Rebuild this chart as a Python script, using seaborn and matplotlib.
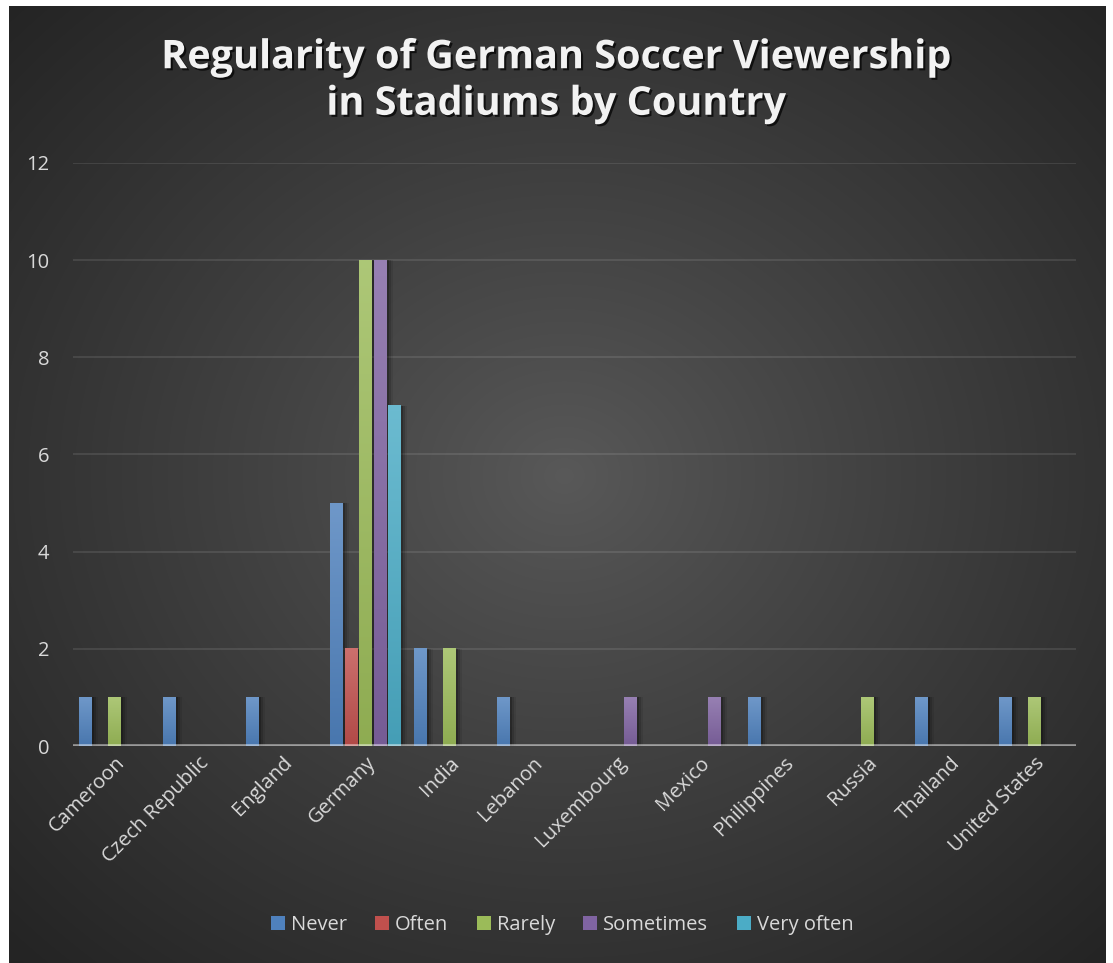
import numpy as np
import pandas as pd
import matplotlib
matplotlib.use("Agg")
import matplotlib.pyplot as plt
import matplotlib.patheffects as pe
import matplotlib.transforms as mtransforms
from matplotlib.patches import Patch, Rectangle
from matplotlib.colors import to_rgb
import seaborn as sns

# ---- data -------------------------------------------------------------
countries = ["Cameroon", "Czech Republic", "England", "Germany", "India", "Lebanon",
             "Luxembourg", "Mexico", "Philippines", "Russia", "Thailand", "United States"]
levels = ["Never", "Often", "Rarely", "Sometimes", "Very often"]
never      = [1, 1, 1, 5, 2, 1, 0, 0, 1, 0, 1, 1]
often      = [0, 0, 0, 2, 0, 0, 0, 0, 0, 0, 0, 0]
rarely     = [1, 0, 0, 10, 2, 0, 0, 0, 0, 1, 0, 1]
sometimes  = [0, 0, 0, 10, 0, 0, 1, 1, 0, 0, 0, 0]
very_often = [0, 0, 0, 7, 0, 0, 0, 0, 0, 0, 0, 0]
y_ticks = [0, 2, 4, 6, 8, 10, 12]
title = "Regularity of German Soccer Viewership\nin Stadiums by Country"

series = dict(zip(levels, [never, often, rarely, sometimes, very_often]))
df = pd.DataFrame([
    {"Country": c, "Regularity": lvl, "Count": vals[i]}
    for lvl, vals in series.items() for i, c in enumerate(countries)
])

palette = {"Never": "#4f81bd", "Often": "#c0504d", "Rarely": "#9bbb59",
           "Sometimes": "#8064a2", "Very often": "#4bacc6"}

# ---- figure -----------------------------------------------------------
W, H = 1113, 963
fig = plt.figure(figsize=(W / 100, H / 100), dpi=100)
fig.patch.set_facecolor("white")

# radial dark backdrop
bx0, by0, bw, bh = 9, 0, 1097, 957
bg = fig.add_axes([bx0 / W, by0 / H, bw / W, bh / H], zorder=-5)
bg.set_axis_off()
yy, xx = np.mgrid[0:bh, 0:bw]
cx, cy = 555, 470
r = np.sqrt(((xx - cx) / (bw / 2)) ** 2 + ((yy - cy) / (bh / 2)) ** 2) / np.sqrt(2)
r = np.clip(r, 0, 1)
v = (89 - (89 - 36) * r ** 0.9) / 255.0
bg.imshow(np.dstack([v, v, v]), aspect="auto", extent=(0, bw, bh, 0))
bg.set_xlim(0, bw)
bg.set_ylim(bh, 0)

sns.set_style("dark")
ax = fig.add_axes([73 / W, (H - 746) / H, (1076 - 73) / W, (746 - 163) / H])
ax.set_facecolor("none")

sns.barplot(data=df, x="Country", y="Count", hue="Regularity", order=countries,
            hue_order=levels, palette=palette, width=0.87, gap=0.11,
            saturation=1, legend=False, ax=ax, zorder=3, linewidth=0)

# vertical shading on each bar, with a soft drop shadow
def shade(c, f):
    c = np.array(to_rgb(c))
    return c + (1 - c) * f if f > 0 else c * (1 + f)

bar_idx = 0
for lvl in levels:
    for i in range(len(countries)):
        patch = ax.patches[bar_idx]
        bar_idx += 1
        hgt = patch.get_height()
        if hgt <= 0:
            continue
        x0 = patch.get_x()
        w = patch.get_width()
        col = palette[lvl]
        top, bot = shade(col, 0.18), shade(col, -0.08)
        t = np.linspace(0, 1, 64)[:, None]
        grad = (top[None, :] * (1 - t) + bot[None, :] * t)[:, None, :]
        ax.imshow(grad, extent=(x0, x0 + w, 0, hgt), aspect="auto", zorder=3.5,
                  origin="upper", interpolation="bilinear")
        for dx, a in [(2, 0.22), (4, 0.14), (6, 0.08)]:
            off = mtransforms.offset_copy(ax.transData, fig=fig, x=dx, y=0, units="dots")
            ax.add_patch(Rectangle((x0, 0), w, hgt, transform=off, facecolor="black",
                                   edgecolor="none", alpha=a, zorder=2.5))

ax.set_xlim(-0.5, len(countries) - 0.5)
ax.set_ylim(0, 12)
ax.set_yticks(y_ticks)
ax.set_xlabel("")
ax.set_ylabel("")

for yv in y_ticks[1:]:
    ax.axhline(yv, color="white", alpha=0.1, lw=1.4, zorder=1)
ax.axhline(0, color="white", alpha=0.5, lw=2.6, zorder=5)

for s in ax.spines.values():
    s.set_visible(False)

lab_font = "Open Sans"
ax.tick_params(axis="both", length=0, colors="#d9d9d9", labelsize=14.5)
ax.tick_params(axis="y", pad=17)
ax.tick_params(axis="x", pad=5)
for lab in ax.get_yticklabels():
    lab.set_fontfamily(lab_font)
for lab in ax.get_xticklabels():
    lab.set_fontfamily(lab_font)
    lab.set_rotation(45)
    lab.set_ha("right")
    lab.set_rotation_mode("anchor")

# title
fig.text(0.5, (H - 81) / H, title, ha="center", va="center", color="#f2f2f2",
         fontsize=28.5, fontweight="bold", fontfamily=lab_font, linespacing=1.25,
         path_effects=[pe.withSimplePatchShadow(offset=(1.5, -1.5),
                                                shadow_rgbFace="black", alpha=0.7)])

# legend
handles = [Patch(facecolor=palette[l], edgecolor="none", label=l) for l in levels]
fig.legend(handles=handles, loc="center", bbox_to_anchor=(0.505, (H - 925) / H),
           ncol=5, frameon=False, handlelength=0.7, handleheight=0.7,
           handletextpad=0.3, columnspacing=1.4,
           prop={"family": lab_font, "size": 14.5}, labelcolor="#d9d9d9")

fig.savefig("out.png", dpi=100)
